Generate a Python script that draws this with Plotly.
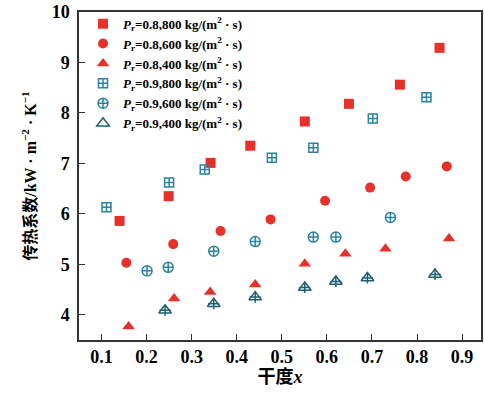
import plotly.graph_objects as go

# Data
x_r800 = [0.140, 0.249, 0.342, 0.430, 0.551, 0.649, 0.762, 0.850]
y_r800 = [5.86, 6.35, 7.01, 7.35, 7.83, 8.18, 8.56, 9.29]

x_r600 = [0.155, 0.259, 0.364, 0.475, 0.596, 0.696, 0.775, 0.866]
y_r600 = [5.03, 5.40, 5.66, 5.89, 6.26, 6.52, 6.74, 6.94]

x_r400 = [0.160, 0.261, 0.341, 0.441, 0.551, 0.641, 0.730, 0.871]
y_r400 = [3.77, 4.32, 4.45, 4.60, 5.01, 5.21, 5.31, 5.51]

x_b800 = [0.111, 0.250, 0.329, 0.478, 0.570, 0.702, 0.821]
y_b800 = [6.13, 6.62, 6.88, 7.11, 7.31, 7.89, 8.31]

x_b600 = [0.201, 0.248, 0.349, 0.441, 0.570, 0.620, 0.741]
y_b600 = [4.87, 4.94, 5.26, 5.45, 5.54, 5.54, 5.93]

x_b400 = [0.241, 0.349, 0.441, 0.551, 0.620, 0.690, 0.840]
y_b400 = [4.09, 4.22, 4.35, 4.54, 4.66, 4.73, 4.80]

names = [
    "<i>P</i><sub>r</sub>=0.8,800 kg/(m<sup>2</sup> · s)",
    "<i>P</i><sub>r</sub>=0.8,600 kg/(m<sup>2</sup> · s)",
    "<i>P</i><sub>r</sub>=0.8,400 kg/(m<sup>2</sup> · s)",
    "<i>P</i><sub>r</sub>=0.9,800 kg/(m<sup>2</sup> · s)",
    "<i>P</i><sub>r</sub>=0.9,600 kg/(m<sup>2</sup> · s)",
    "<i>P</i><sub>r</sub>=0.9,400 kg/(m<sup>2</sup> · s)",
]
x_ticks = [0.1, 0.2, 0.3, 0.4, 0.5, 0.6, 0.7, 0.8, 0.9]
y_ticks = [4, 5, 6, 7, 8, 9, 10]

RED = "#e8302a"
TEAL = "#2a84a0"
DTEAL = "#1e5f72"

fig = go.Figure()
fig.add_trace(go.Scatter(x=x_r800, y=y_r800, mode="markers", name=names[0],
                         marker=dict(symbol="square", size=10, color=RED)))
fig.add_trace(go.Scatter(x=x_r600, y=y_r600, mode="markers", name=names[1],
                         marker=dict(symbol="circle", size=10, color=RED)))
fig.add_trace(go.Scatter(x=x_r400, y=y_r400, mode="markers", name=names[2],
                         marker=dict(symbol="triangle-up", size=11, color=RED)))
fig.add_trace(go.Scatter(x=x_b800, y=y_b800, mode="markers", name=names[3],
                         marker=dict(symbol="square-cross-open", size=9, color=TEAL,
                                     line=dict(width=1.5, color=TEAL))))
fig.add_trace(go.Scatter(x=x_b600, y=y_b600, mode="markers", name=names[4],
                         marker=dict(symbol="circle-cross-open", size=10, color=TEAL,
                                     line=dict(width=1.5, color=TEAL))))
fig.add_trace(go.Scatter(x=x_b400, y=y_b400, mode="markers", name=names[5],
                         marker=dict(symbol="triangle-up-open", size=11, color=DTEAL,
                                     line=dict(width=1.5, color=DTEAL))))
fig.add_trace(go.Scatter(x=x_b400, y=y_b400, mode="markers", showlegend=False,
                         hoverinfo="skip",
                         marker=dict(symbol="cross-thin-open", size=8, color=DTEAL,
                                     line=dict(width=1.5, color=DTEAL))))

serif = "Liberation Serif, Noto Sans CJK SC"
fig.update_layout(
    width=485, height=398,
    margin=dict(l=79, r=2, t=12, b=58),
    paper_bgcolor="white", plot_bgcolor="white",
    showlegend=True,
    legend=dict(x=0.01, y=1.01, xanchor="left", yanchor="top",
                bgcolor="rgba(0,0,0,0)", borderwidth=0,
                font=dict(family=serif, size=13, color="black", weight="bold"),
                itemwidth=30, tracegroupgap=0),
    xaxis=dict(range=[0.05, 0.942], tickvals=x_ticks, ticktext=[str(v) for v in x_ticks],
               ticks="inside", ticklen=6, tickwidth=1.2, tickcolor="#333",
               showline=True, linecolor="#333", linewidth=1.5, mirror=True,
               showgrid=False, zeroline=False,
               tickfont=dict(family=serif, size=18, color="black", weight="bold"),
               title=dict(text="干度<i>x</i>", standoff=2,
                          font=dict(family=serif, size=18, color="black", weight="bold"))),
    yaxis=dict(range=[3.5, 10], tickvals=y_ticks, ticktext=[str(v) for v in y_ticks],
               ticks="inside", ticklen=6, tickwidth=1.2, tickcolor="#333",
               showline=True, linecolor="#333", linewidth=1.5, mirror=True,
               showgrid=False, zeroline=False, ticklabelstandoff=4,
               tickfont=dict(family=serif, size=18, color="black", weight="bold"),
               title=dict(text="传热系数/kW · m<sup>−2</sup> · K<sup>−1</sup>", standoff=11,
                          font=dict(family=serif, size=16, color="black", weight="bold"))),
)

fig.write_html("out.html")
